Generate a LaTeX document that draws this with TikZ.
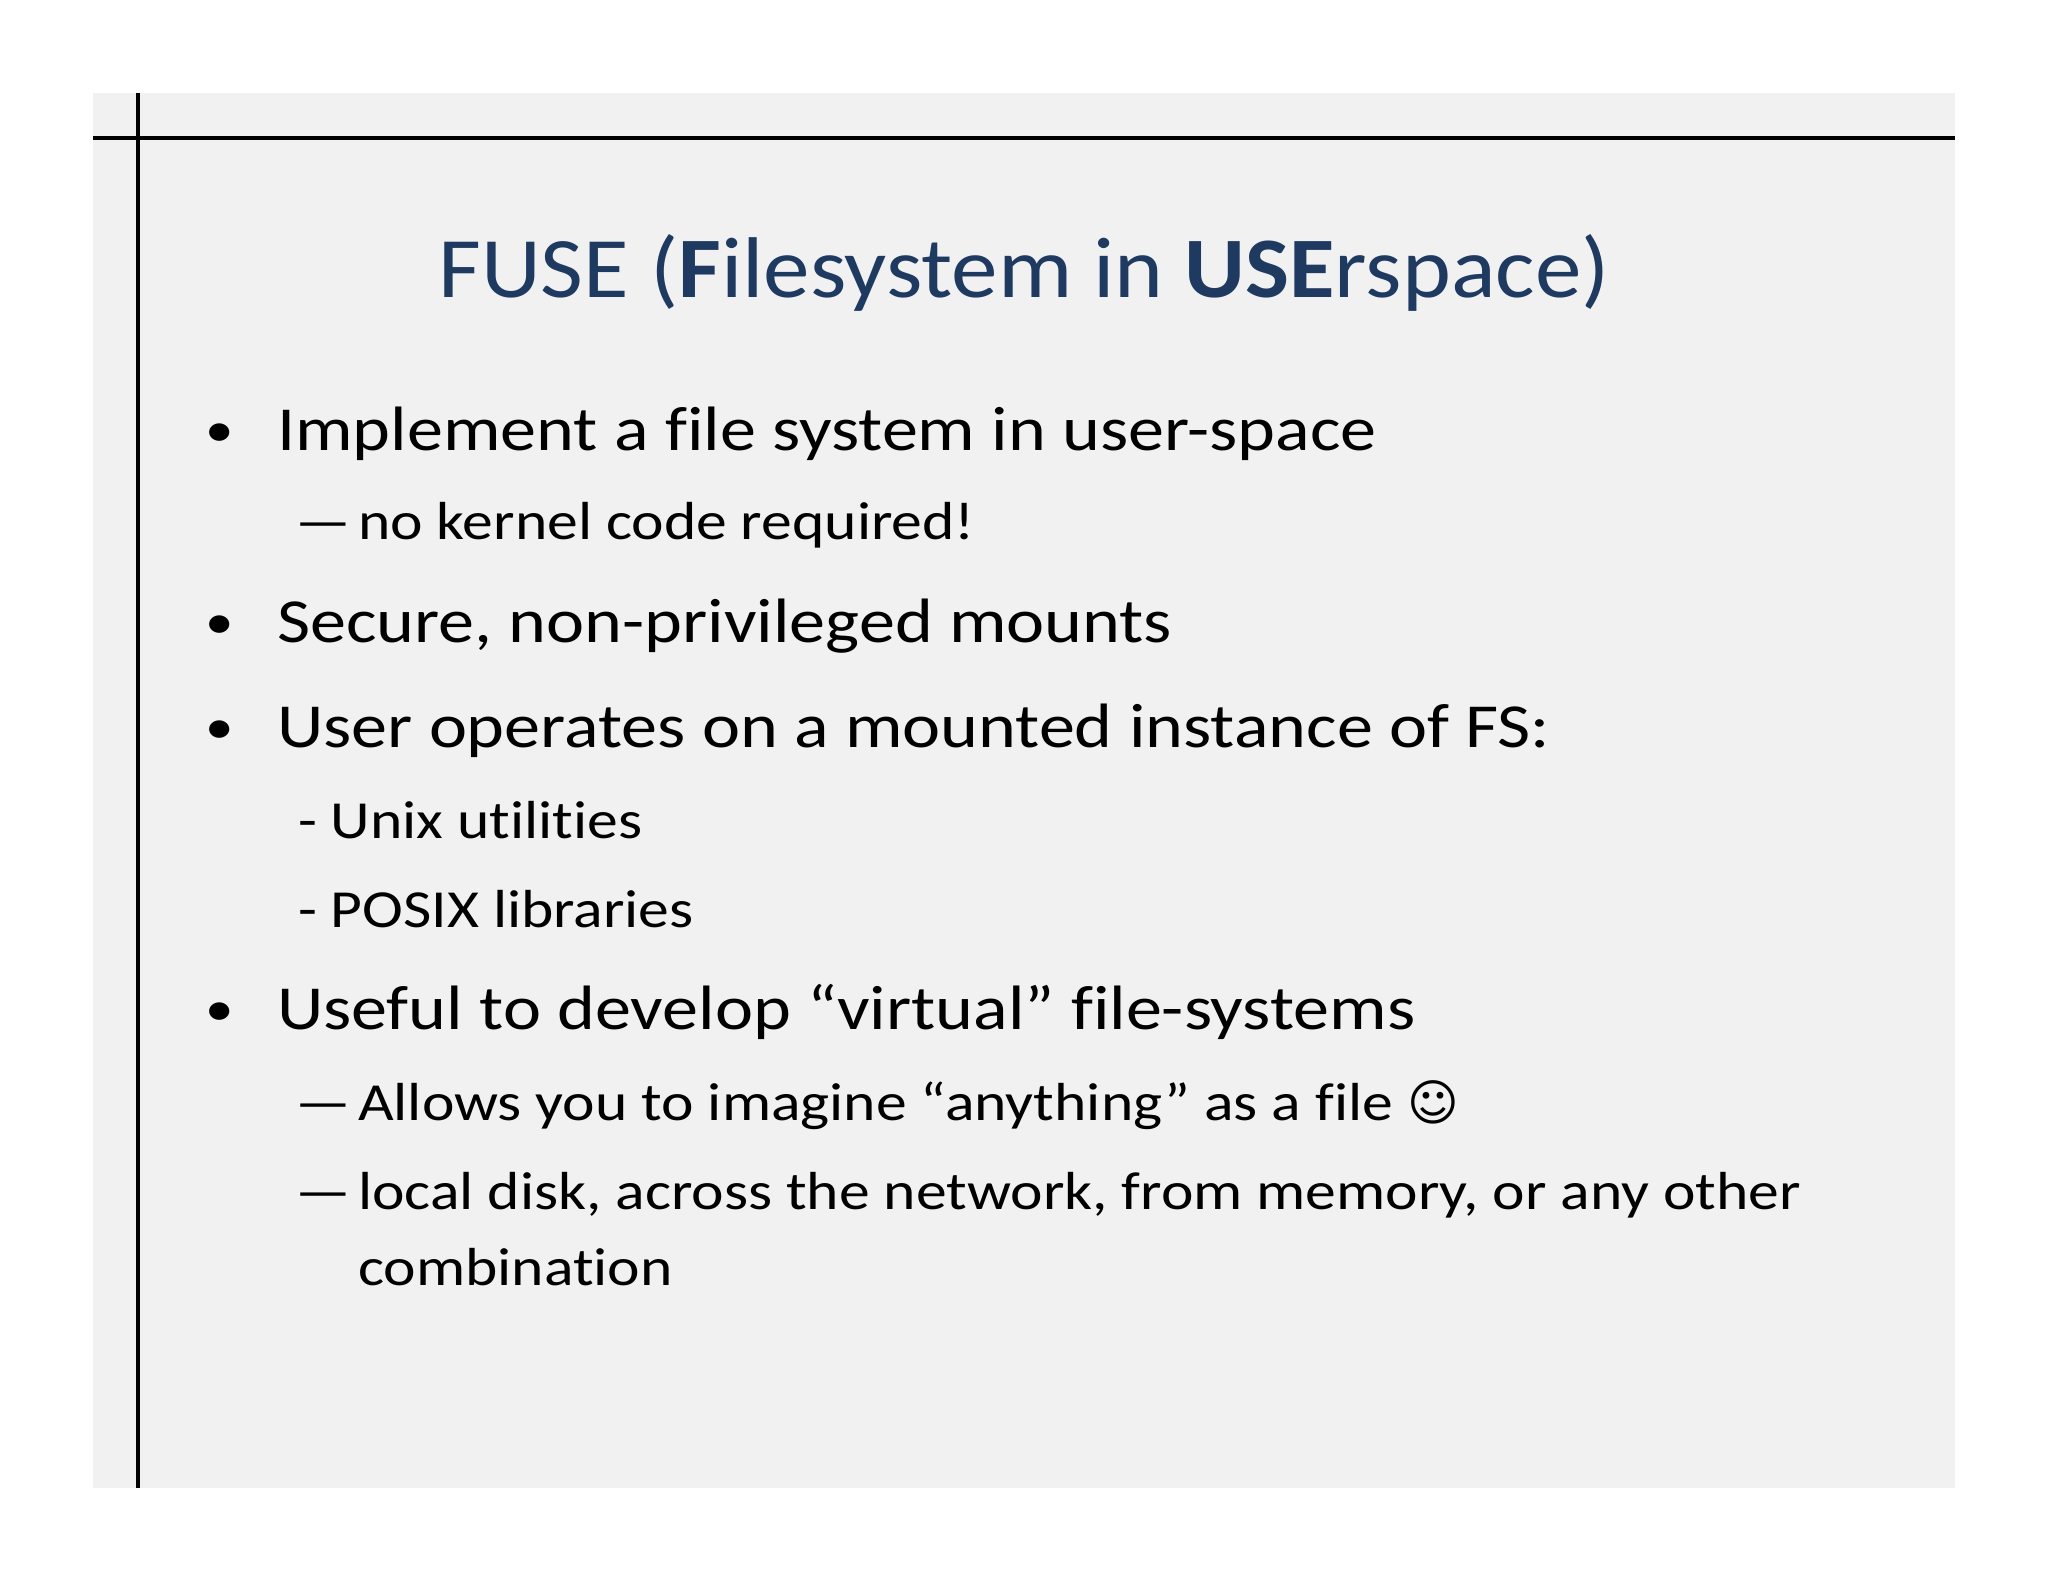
\documentclass[tikz,border=0pt]{standalone}
\usepackage{fontspec}
\setmainfont{Carlito}[Ligatures={NoCommon},FakeStretch=1.15]
\newfontfamily\titlefont{Carlito}[Ligatures={NoCommon},FakeStretch=1.08]
\newfontfamily\symfont{DejaVu Sans}
\definecolor{slidebg}{HTML}{F1F1F2}
\definecolor{titleblue}{HTML}{1F3A60}
\begin{document}
\begin{tikzpicture}[x=1pt,y=-1pt,
  title/.style={anchor=base,font=\titlefont\fontsize{66}{70}\selectfont,text=titleblue,inner sep=0},
  lvl1/.style={anchor=base west,font=\fontsize{48}{52}\selectfont,inner sep=0},
  bul/.style={anchor=base west,font=\fontsize{38}{40}\selectfont,inner sep=0},
  lvl2/.style={anchor=base west,font=\fontsize{41}{50}\selectfont,inner sep=0,align=left}]
\useasboundingbox (0,0) rectangle (1568,1211);
\fill[white] (0,0) rectangle (1568,1211);
\fill[slidebg] (71,71) rectangle (1497,1139);
\draw[line width=3pt] (71,106) -- (1497,106);
\draw[line width=3pt] (106,71) -- (106,1139);
\node[title] (t) at (784,228) {FUSE (\textbf{F}ilesystem in \textbf{USE}rspace)};
\node[bul] (b1d) at (157,342) {•};
\node[lvl1] (b1) at (212,345) {Implement a file system in user-space};
\node[lvl2] (s1d) at (226,413) {—};
\node[lvl2] (s1) at (274,413) {no kernel code required!};
\node[bul] (b2d) at (157,489) {•};
\node[lvl1] (b2) at (212,492) {Secure, non-privileged mounts};
\node[bul] (b3d) at (157,569) {•};
\node[lvl1] (b3) at (212,572) {User operates on a mounted instance of FS:};
\node[lvl2] (u1) at (228,642) {- Unix utilities};
\node[lvl2] (u2) at (228,710) {- POSIX libraries};
\node[bul] (b4d) at (157,785) {•};
\node[lvl1] (b4) at (212,788) {Useful to develop “virtual” file-systems};
\node[lvl2] (s2d) at (226,858) {—};
\node[lvl2] (s2) at (274,858) {Allows you to imagine “anything” as a file {\symfont\fontsize{38}{40}\selectfont ☺}};
\node[lvl2] (s3d) at (226,926) {—};
\node[lvl2] (s3) at (274,926) {local disk, across the network, from memory, or any other};
\node[lvl2] (s3b) at (274,984) {combination};
\end{tikzpicture}
\end{document}
